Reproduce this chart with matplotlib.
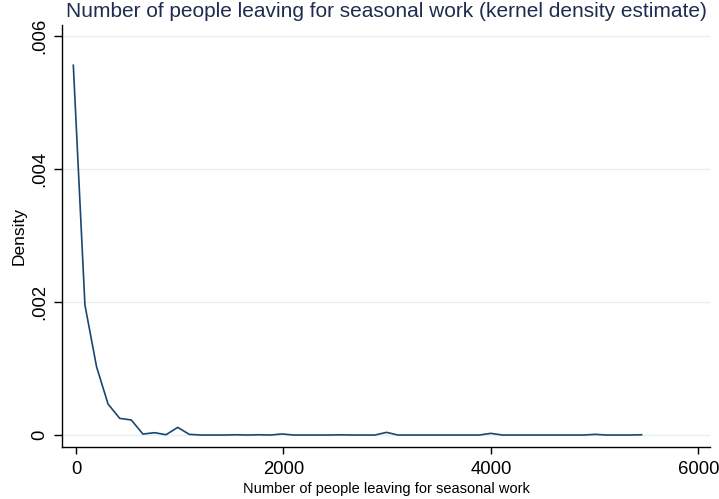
import matplotlib
matplotlib.use("Agg")
import matplotlib.pyplot as plt

plt.rcParams['font.family'] = ['Liberation Sans', 'DejaVu Sans']

# kernel density evaluated at 50 points
grid_x = [-26, 86, 198, 309, 421, 533, 645, 757, 868, 980,
          1092, 1204, 1316, 1427, 1539, 1651, 1763, 1875, 1986, 2098,
          2210, 2322, 2434, 2545, 2657, 2769, 2881, 2993, 3104, 3216,
          3328, 3440, 3552, 3663, 3775, 3887, 3999, 4111, 4222, 4334,
          4446, 4558, 4670, 4781, 4893, 5005, 5117, 5229, 5340, 5452]
density = [0.00556, 0.001955, 0.001027, 0.000466, 0.000251, 0.000226, 0.000015, 0.000035, 0.000005, 0.000115,
           0.00001, 0.0, 0.0, 0.0, 0.000004, 0.0, 0.000004, 0.0, 0.000016, 0.0,
           0.0, 0.0, 0.0, 0.000003, 0.0, 0.0, 0.0, 0.00004, 0.0, 0.0,
           0.0, 0.0, 0.0, 0.0, 0.0, 0.0, 0.000025, 0.0, 0.0, 0.0,
           0.0, 0.0, 0.0, 0.0, 0.0, 0.00001, 0.0, 0.0, 0.0, 0.000004]

x_ticks = [0, 2000, 4000, 6000]
x_labels = ["0", "2000", "4000", "6000"]
y_ticks = [0, 0.002, 0.004, 0.006]
y_labels = ["0", ".002", ".004", ".006"]

fig = plt.figure(figsize=(7.19, 4.99), dpi=100)
ax = fig.add_axes([62 / 719, 1 - 447 / 499, 648 / 719, 422 / 499])

ax.plot(grid_x, density, color='#1a476f', linewidth=1.2, zorder=3)

ax.set_xlim(-135, 6111)
ax.set_ylim(-0.00018, 0.006165)
ax.set_xticks(x_ticks)
ax.set_xticklabels(x_labels)
ax.set_yticks(y_ticks)
ax.set_yticklabels(y_labels, rotation=90, va='center')

ax.grid(axis='y', color='#e6eff0', linewidth=1.0, zorder=0)
ax.spines['top'].set_visible(False)
ax.spines['right'].set_visible(False)
for side in ('left', 'bottom'):
    ax.spines[side].set_linewidth(1.0)
    ax.spines[side].set_color('black')

ax.tick_params(axis='x', length=5, width=1, pad=5, labelsize=13.3)
ax.tick_params(axis='y', length=6, width=1, pad=4, labelsize=13.3)

ax.set_xlabel("Number of people leaving for seasonal work", fontsize=10.5, labelpad=3)
ax.set_ylabel("Density", fontsize=12.5, labelpad=3)
ax.set_title("Number of people leaving for seasonal work (kernel density estimate)",
             fontsize=15, color='#1e2d4f', pad=6)

fig.savefig("out.png", dpi=100, facecolor='white')
